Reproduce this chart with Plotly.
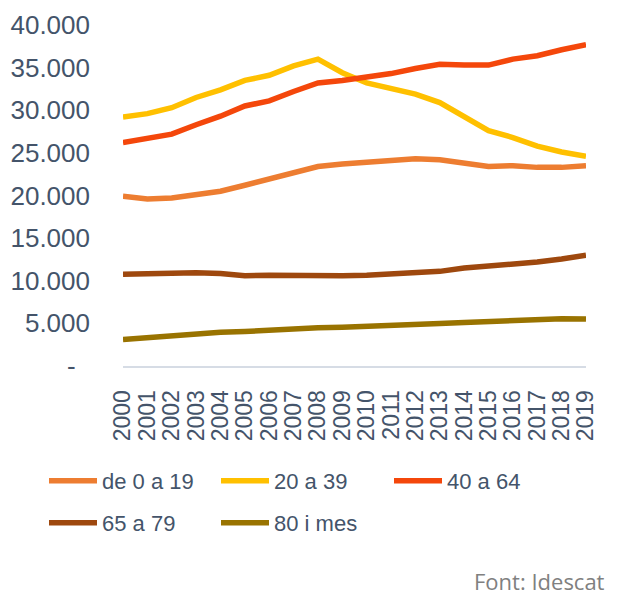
import plotly.graph_objects as go

years = [str(y) for y in range(2000, 2020)]
age_0_19 = [19900, 19600, 19700, 20100, 20500, 21200, 21900, 22600, 23400, 23700,
            23900, 24100, 24300, 24200, 23800, 23400, 23500, 23300, 23300, 23500]
age_20_39 = [29200, 29600, 30300, 31500, 32400, 33500, 34100, 35200, 36000, 34400,
             33200, 32500, 31900, 30900, 29200, 27600, 26800, 25800, 25100, 24600]
age_40_64 = [26200, 26700, 27200, 28300, 29300, 30500, 31100, 32200, 33200, 33500,
             33900, 34300, 34900, 35400, 35300, 35300, 36000, 36400, 37100, 37700]
age_65_79 = [10750, 10850, 10900, 10950, 10850, 10600, 10650, 10600, 10600, 10600,
             10650, 10750, 10900, 11100, 11500, 11700, 11950, 12200, 12550, 13000]
age_80 = [3100, 3350, 3550, 3800, 3950, 4050, 4250, 4450, 4500, 4550,
          4700, 4800, 4900, 5000, 5100, 5250, 5400, 5500, 5550, 5500]

series_names = ["de 0 a 19", "20 a 39", "40 a 64", "65 a 79", "80 i mes"]
series_values = [age_0_19, age_20_39, age_40_64, age_65_79, age_80]
series_colors = ["#ED7D31", "#FFC000", "#F4470B", "#9E480E", "#997300"]
series_legend = ["legend", "legend", "legend3", "legend2", "legend2"]

y_tickvals = [0, 5000, 10000, 15000, 20000, 25000, 30000, 35000, 40000]
y_ticktext = ["-\u00a0\u00a0", "5.000", "10.000", "15.000", "20.000",
              "25.000", "30.000", "35.000", "40.000"]

TEXT = "#44546A"
FONT = "Arial, Liberation Sans, sans-serif"

# the page body adds an 8px margin, so the figure is 8px smaller
W, H = 614, 585

fig = go.Figure()
for name, vals, col, lg in zip(series_names, series_values, series_colors, series_legend):
    fig.add_trace(go.Scatter(
        x=years, y=vals, name=name, mode="lines",
        line=dict(color=col, width=5.5), legend=lg,
    ))

legend_common = dict(
    orientation="h", xref="container", yref="container",
    xanchor="left", yanchor="middle",
    font=dict(family=FONT, size=22, color=TEXT),
    entrywidth=109, entrywidthmode="pixels",
    itemwidth=48, bgcolor="rgba(0,0,0,0)", borderwidth=0,
    traceorder="normal",
)

fig.update_layout(
    width=W, height=H,
    margin=dict(l=115, r=36, t=17, b=227, autoexpand=False),
    paper_bgcolor="white", plot_bgcolor="white",
    font=dict(family=FONT, color=TEXT),
    xaxis=dict(
        type="category", range=[0, 19],
        tickmode="array", tickvals=years, ticktext=years,
        tickangle=-90, tickfont=dict(family=FONT, size=23, color=TEXT),
        showgrid=False, zeroline=False, automargin=False,
        showline=True, linecolor="#D6DCE5", linewidth=2,
        ticks="", ticklabelstandoff=13,
    ),
    yaxis=dict(
        range=[0, 40000], tickvals=y_tickvals, ticktext=y_ticktext,
        tickfont=dict(family=FONT, size=26, color=TEXT),
        showgrid=False, zeroline=False, showline=False, automargin=False,
        ticks="", ticklabelstandoff=32,
    ),
    legend=dict(x=36 / W, y=1 - (481 - 8) / H, **legend_common),
    legend3=dict(x=381 / W, y=1 - (481 - 8) / H, **legend_common),
    legend2=dict(x=36 / W, y=1 - (523 - 8) / H, **legend_common),
    showlegend=True,
)

fig.add_annotation(
    text="Font: Idescat", xref="paper", yref="paper",
    x=(607 - 123) / 463, y=(366 - 581) / 341,
    xanchor="right", yanchor="middle", showarrow=False,
    font=dict(family="Open Sans, sans-serif", size=22, color="#808080"),
)

fig.write_html("out.html")
